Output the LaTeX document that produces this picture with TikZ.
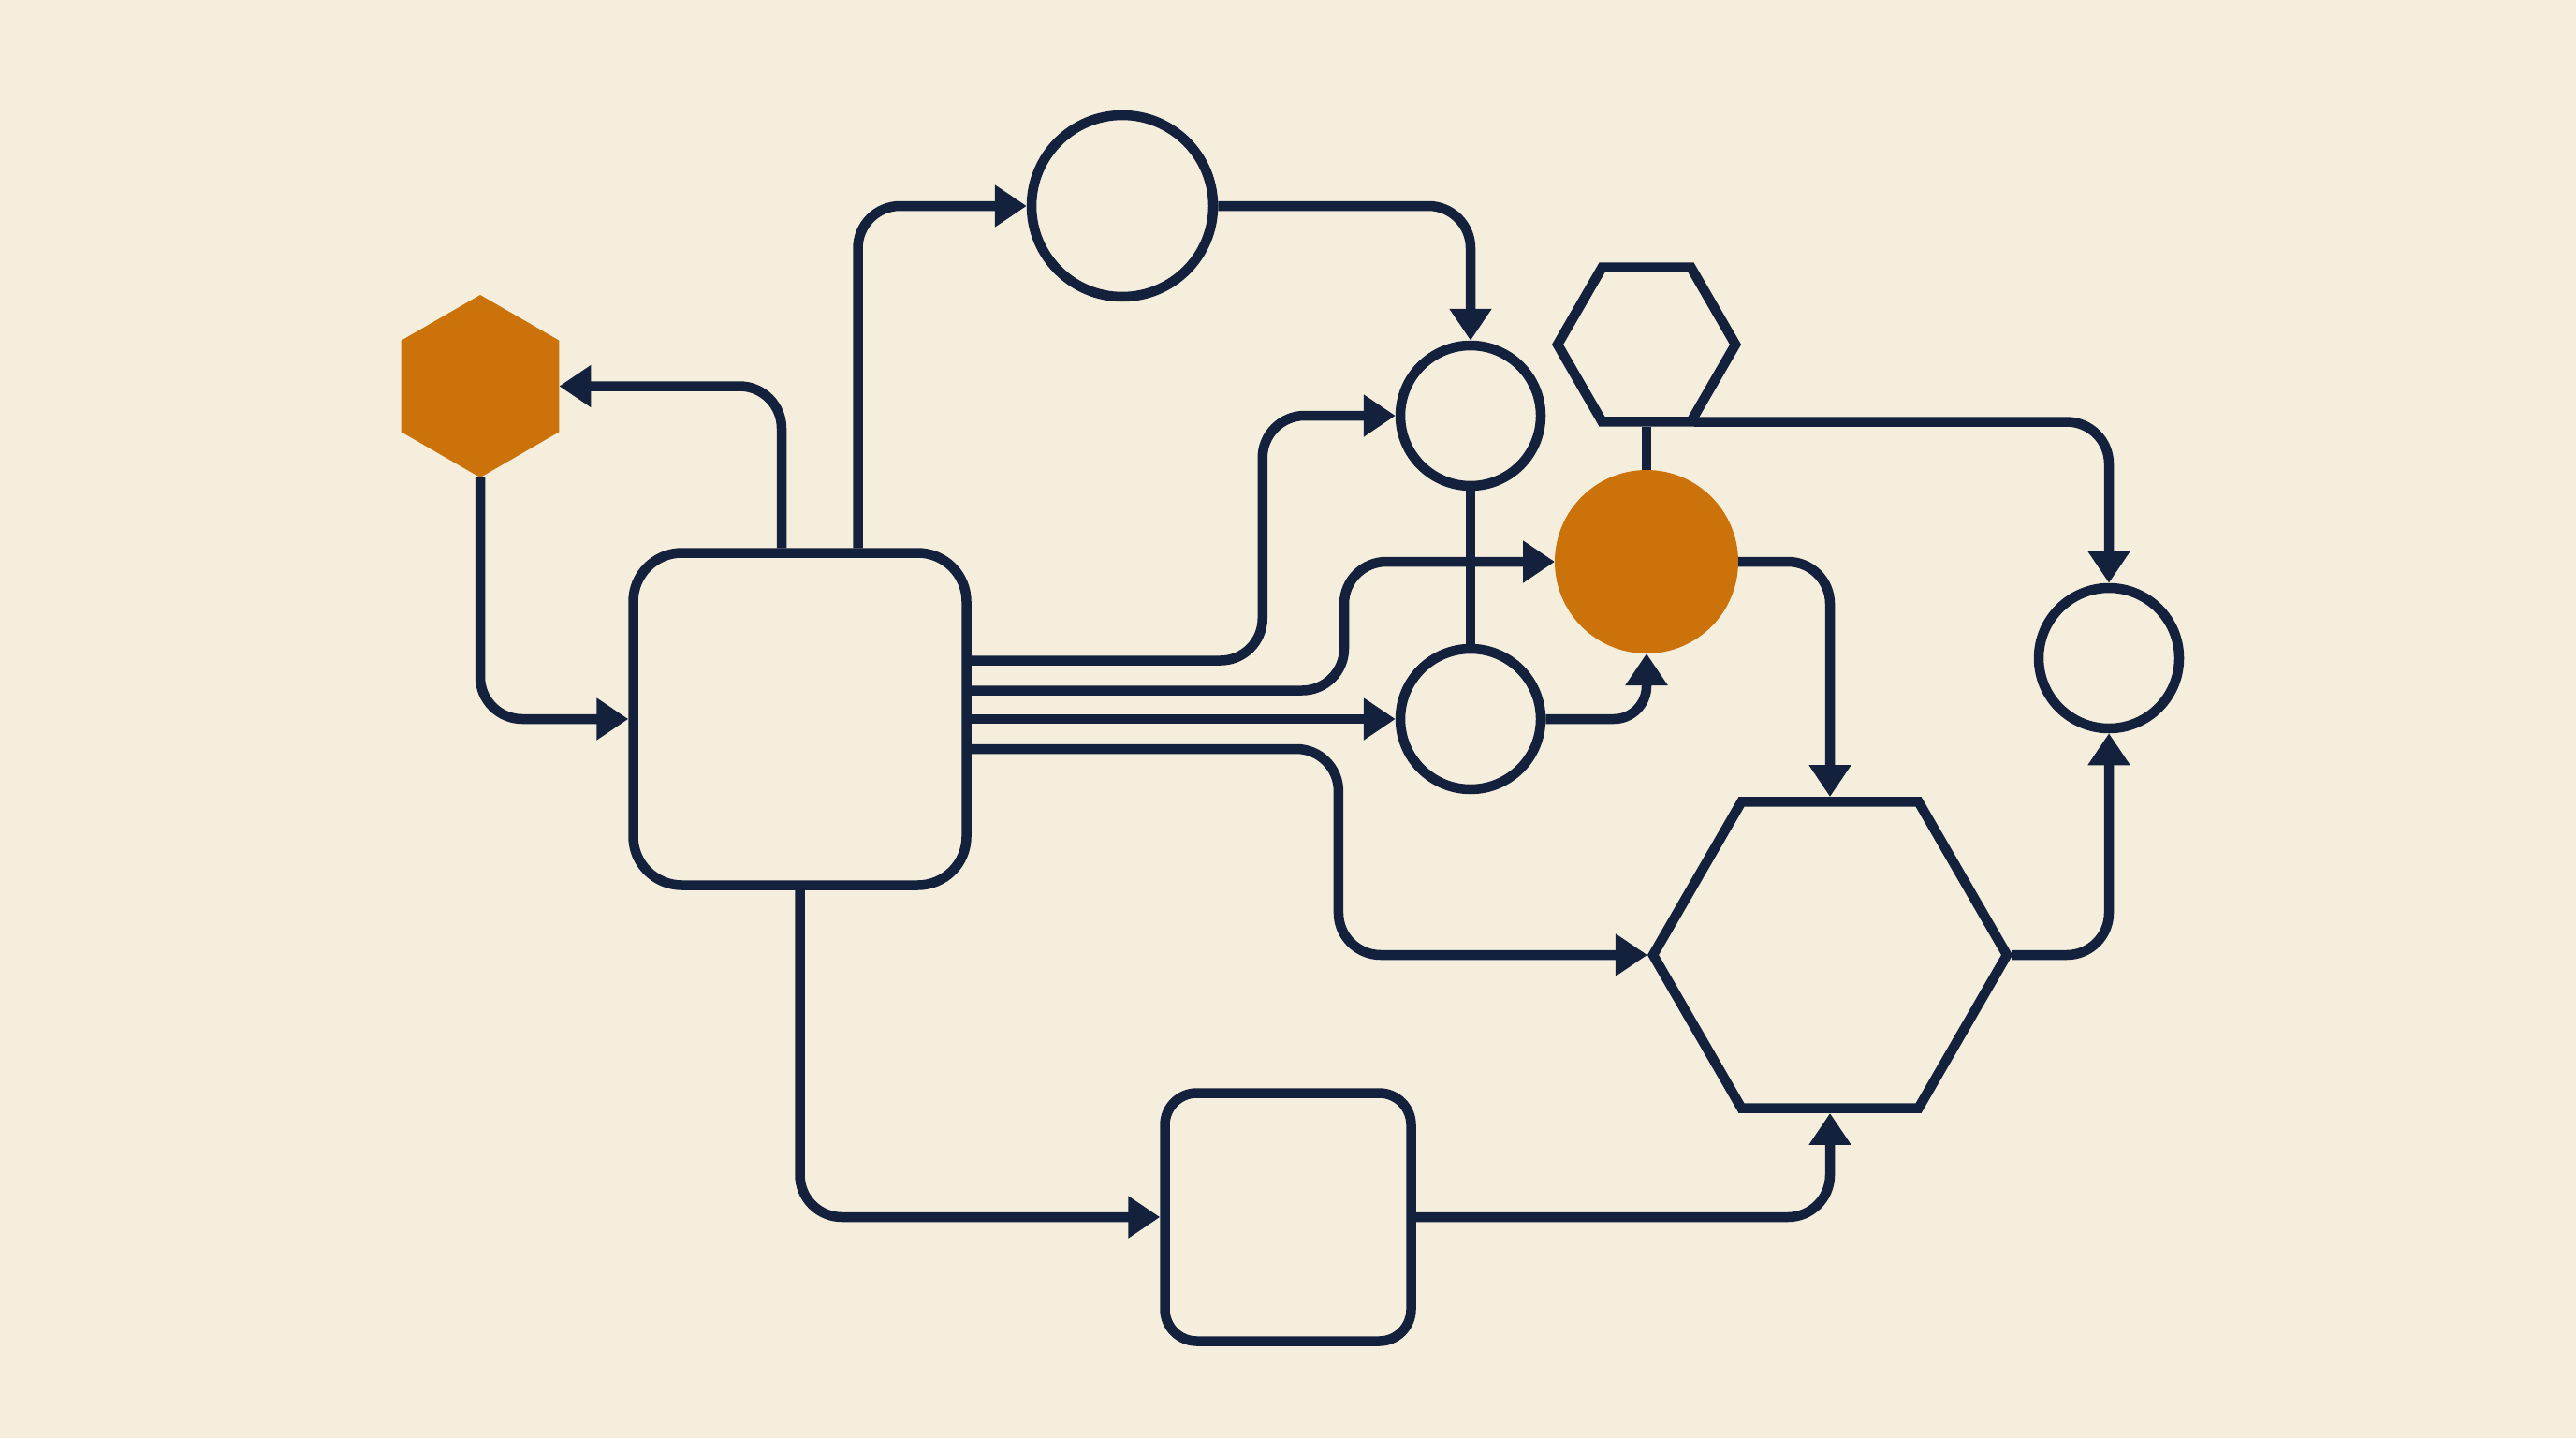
\documentclass[tikz,border=0pt]{standalone}
\usepackage{tikz}
\usetikzlibrary{arrows.meta}
\usetikzlibrary{shapes}

\definecolor{paper}{HTML}{F5EEDC}
\definecolor{ink}{HTML}{14213D}
\definecolor{amber}{HTML}{CC720A}

\begin{document}
\begin{tikzpicture}[y=-1cm,>={Triangle[length=3.4mm,width=4.3mm]},line width=1.05mm,
  hub/.style={rectangle,draw=ink,rounded corners=5.2mm,inner sep=0pt,minimum width=3.56cm,minimum height=3.55cm},
  ring/.style={circle,draw=ink,inner sep=0pt,minimum size=1.5cm},
  hexa/.style={regular polygon,regular polygon sides=6,draw=ink,inner sep=0pt},
  dot/.style={circle,fill=amber,inner sep=0pt,outer sep=0pt,minimum size=1.96cm},
  link/.style={draw=ink,rounded corners=4.5mm}]
  \fill[paper] (0,0) rectangle (27.52,15.36);

  \node[hexa,draw=none,fill=amber,outer sep=0pt,shape border rotate=30,minimum size=1.95cm] (hexO) at (5.13,4.125) {};
  \node[hub] (bigR) at (8.545,7.68) {};
  \node[ring,minimum size=1.94cm] (circT) at (11.99,2.2) {};
  \node[ring] (circA) at (15.71,4.44) {};
  \node[ring] (circB) at (15.71,7.68) {};
  \node[dot] (dotO) at (17.59,6.0) {};
  \node[hexa,minimum size=1.9cm] (hexS) at (17.59,3.68) {};
  \node[ring] (circR) at (22.53,7.03) {};
  \node[hexa,minimum size=3.78cm] (hexB) at (19.55,10.2) {};
  \node[hub,rounded corners=3.4mm,minimum width=2.63cm,minimum height=2.65cm] (smallR) at (13.76,13.0) {};

  % plain joins
  \draw[link] (circA) -- (circB);
  \draw[link] (hexS.south) -- (dotO.north);

  \foreach \from/\to in {circT.east/circA.north, dotO.east/hexB.north,
    hexB.east/circR.south, smallR.east/hexB.south}
    \draw[link,->] (\from) -| (\to);
  \foreach \from/\to in {hexO.south/bigR.west, bigR.south/smallR.west}
    \draw[link,->] (\from) |- (\to);

  \draw[link,->] ([yshift=0.5mm]hexS.-60) -| (circR.north);
  \draw[link,->,rounded corners=3.5mm] (circB.east) -| (dotO.south);
  \draw[link,->] (bigR.east) -- (circB.west);

  % out of the hub
  \draw[link,->] ([xshift=6.2mm]bigR.north) |- (circT.west);
  \draw[link,->] ([xshift=-1.95mm]bigR.north) |- (hexO.east);
  \draw[link,->] ([yshift=6.25mm]bigR.east) -| ([xshift=-14.2mm]circA.west) -- (circA.west);
  \draw[link,->] ([yshift=3.05mm]bigR.east) -| ([xshift=-22.5mm]dotO.west) -- (dotO.west);
  \draw[link,->] ([yshift=-3.2mm]bigR.east) -| ([xshift=-33mm]hexB.west) -- (hexB.west);
\end{tikzpicture}
\end{document}
